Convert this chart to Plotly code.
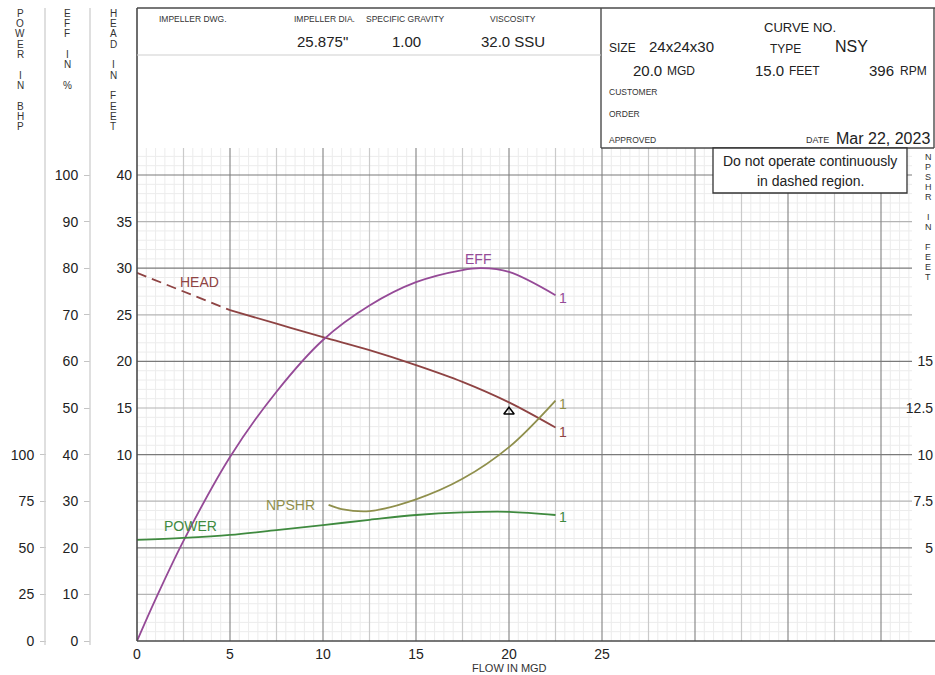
import plotly.graph_objects as go

# ---------------- data ----------------
head_flow = [0, 2.5, 5, 7.5, 10, 12.5, 15, 17.5, 20, 22.5]
head_ft = [29.5, 27.5, 25.5, 24.05, 22.6, 21.2, 19.6, 17.8, 15.6, 12.9]
eff_flow = [0, 1, 2.5, 5, 7.5, 10, 12.5, 15, 17.5, 18.5, 20, 22.5]
eff_pct = [0, 9, 21.5, 39.5, 53.5, 64.6, 72, 77, 79.6, 80, 79.2, 74.2]
power_flow = [0, 2.5, 5, 7.5, 10, 12.5, 15, 17.5, 20, 22.5]
power_bhp = [54.2, 55.3, 56.9, 59.5, 62.2, 65.0, 67.6, 69.0, 69.3, 67.6]
npshr_flow = [10.3, 11, 12.5, 15, 17.5, 20, 22.5]
npshr_ft = [7.3, 7.08, 6.97, 7.6, 8.7, 10.4, 12.9]
duty_flow = [20]
duty_head = [14.6]
dashed_until = 5  # head curve dashed below this flow

flow_ticks = [0, 5, 10, 15, 20, 25]
head_ticks = [10, 15, 20, 25, 30, 35, 40]
eff_ticks = [0, 10, 20, 30, 40, 50, 60, 70, 80, 90, 100]
power_ticks = [0, 25, 50, 75, 100]
npshr_ticks = [5, 7.5, 10, 12.5, 15]

# ---------------- geometry ----------------
W, H = 935, 675
X0, X1, Y0, Y1 = 137, 912, 641, 148
PX_MGD, PX_EFF = 18.6, 4.66
XMAX = (X1 - X0) / PX_MGD
EMAX = (Y0 - Y1) / PX_EFF


def px(x):
    return x / W


def py(y):
    return 1 - y / H


FONT = "Liberation Sans, Arial, sans-serif"
C_EFF, C_HEAD, C_NPSH, C_POW = "#954a97", "#8e4343", "#8f8f4c", "#3f8a3f"

fig = go.Figure()

h_dash = [i for i, f in enumerate(head_flow) if f <= dashed_until]
h_sol = [i for i, f in enumerate(head_flow) if f >= dashed_until]
fig.add_trace(go.Scatter(x=[head_flow[i] for i in h_dash], y=[head_ft[i] for i in h_dash],
                         mode="lines", line=dict(color=C_HEAD, width=1.8, dash="10px,6px"), yaxis="y"))
fig.add_trace(go.Scatter(x=[head_flow[i] for i in h_sol], y=[head_ft[i] for i in h_sol],
                         mode="lines", line=dict(color=C_HEAD, width=1.8, shape="spline"), yaxis="y"))
fig.add_trace(go.Scatter(x=eff_flow, y=eff_pct, mode="lines",
                         line=dict(color=C_EFF, width=1.8, shape="spline"), yaxis="y2"))
fig.add_trace(go.Scatter(x=power_flow, y=power_bhp, mode="lines",
                         line=dict(color=C_POW, width=1.8, shape="spline"), yaxis="y3"))
fig.add_trace(go.Scatter(x=npshr_flow, y=npshr_ft, mode="lines",
                         line=dict(color=C_NPSH, width=1.8, shape="spline"), yaxis="y4"))
fig.add_trace(go.Scatter(x=duty_flow, y=duty_head, mode="markers",
                         marker=dict(symbol="triangle-up-open", size=9, color="black",
                                     line=dict(width=1.5, color="black")), yaxis="y"))

levels = {0: [], 1: [], 2: []}
# vertical grid
n = 1
while n * 0.5 < XMAX:
    v = n * 0.5
    if n % 10 == 0:
        lv, col, w = 2, "#8c8c8c", 1.2
    elif n % 5 == 0:
        lv, col, w = 1, "#cacaca", 1.2
    else:
        lv, col, w = 0, "#ececec", 1
    levels[lv].append(dict(type="line", xref="x", yref="paper", x0=v, x1=v, y0=py(Y0), y1=py(Y1),
                           line=dict(color=col, width=w), layer="below"))
    n += 1
# horizontal grid
n = 1
while n * 2 < EMAX:
    v = n * 2
    if n % 10 == 0:
        lv, col, w = 2, "#7a7a7a", 1.2
    elif n % 5 == 0:
        lv, col, w = 1, "#b4b4b4", 1.2
    else:
        lv, col, w = 0, "#ececec", 1
    levels[lv].append(dict(type="line", xref="paper", yref="y2", x0=px(X0), x1=px(X1), y0=v, y1=v,
                           line=dict(color=col, width=w), layer="below"))
    n += 1
shapes = levels[0] + levels[1] + levels[2]

frame = "#4a4a4a"
# frame lines
shapes += [
    dict(type="line", xref="paper", yref="paper", x0=px(X0), x1=px(X0), y0=py(Y0), y1=py(8),
         line=dict(color=frame, width=1.6)),
    dict(type="line", xref="paper", yref="paper", x0=px(X0), x1=1, y0=py(Y0), y1=py(Y0),
         line=dict(color=frame, width=1.6)),
    dict(type="line", xref="paper", yref="paper", x0=px(X0), x1=1, y0=py(8), y1=py(8),
         line=dict(color=frame, width=1.6)),
    dict(type="line", xref="paper", yref="paper", x0=px(601), x1=px(601), y0=py(8), y1=py(148),
         line=dict(color=frame, width=1.4)),
    dict(type="line", xref="paper", yref="paper", x0=px(601), x1=px(934), y0=py(148), y1=py(148),
         line=dict(color=frame, width=1.4)),
    dict(type="line", xref="paper", yref="paper", x0=px(934), x1=px(934), y0=py(8), y1=py(148),
         line=dict(color=frame, width=1.4)),
    dict(type="line", xref="paper", yref="paper", x0=px(X0), x1=px(601), y0=py(55), y1=py(55),
         line=dict(color="#cfcfcf", width=1.2)),
    dict(type="line", xref="paper", yref="paper", x0=px(45), x1=px(45), y0=py(645), y1=py(8),
         line=dict(color="#d2d2d2", width=1.4)),
    dict(type="line", xref="paper", yref="paper", x0=px(90), x1=px(90), y0=py(645), y1=py(8),
         line=dict(color="#d2d2d2", width=1.4)),
    dict(type="rect", xref="paper", yref="paper", x0=px(713), x1=px(907), y0=py(148), y1=py(193),
         line=dict(color="#333", width=1.3), fillcolor="white"),
]

ann = []


def text(x, y, s, size, color="#222", xanchor="left"):
    ann.append(dict(x=px(x), y=py(y), xref="paper", yref="paper", text=s, showarrow=False,
                    xanchor=xanchor, yanchor="middle", font=dict(family=FONT, size=size, color=color)))


def vertical(x, y0, word, step, size):
    for i, ch in enumerate(word):
        if ch != " ":
            text(x, y0 + i * step, ch, size, "#333", "center")


vertical(20, 13, "POWER IN BHP", 10.36, 10)
vertical(67, 13, "EFF IN %", 10.36, 10)
vertical(113, 13, "HEAD IN FEET", 10.36, 10)
vertical(928, 157, "NPSHR IN FEET", 10, 9)

# header
text(157, 19, "IMPELLER DWG.", 8.5, "#333")
text(292, 19, "IMPELLER DIA.", 8.5, "#333")
text(364, 19, "SPECIFIC GRAVITY", 8.5, "#333")
text(513, 19, "VISCOSITY", 8.5, "#333", "center")
text(322, 41, "25.875\"", 15, "#222", "center")
text(406, 41, "1.00", 15, "#222", "center")
text(513, 41, "32.0 SSU", 15, "#222", "center")
text(800, 27, "CURVE NO.", 13, "#222", "center")
text(607, 48, "SIZE", 12)
text(647, 47, "24x24x30", 15)
text(768, 49, "TYPE", 12)
text(833, 47, "NSY", 16)
text(631, 70, "20.0", 15)
text(665, 71, "MGD", 12)
text(753, 70, "15.0", 15)
text(787, 71, "FEET", 12)
text(867, 70, "396", 15)
text(898, 71, "RPM", 12)
text(607, 92, "CUSTOMER", 8.5, "#333")
text(607, 114, "ORDER", 8.5, "#333")
text(607, 140, "APPROVED", 8.5, "#333")
text(804, 140, "DATE", 9, "#333")
text(834, 138, "Mar 22, 2023", 16)
text(810, 161, "Do not operate continuously", 14, "#222", "center")
text(810, 181, "in dashed region.", 14, "#222", "center")
text(509, 668, "FLOW IN MGD", 11, "#333", "center")

# curve labels
text(478, 259, "EFF", 14, C_EFF, "center")
text(199, 282, "HEAD", 14, C_HEAD, "center")
text(290, 505, "NPSHR", 14, C_NPSH, "center")
text(190, 526, "POWER", 14, C_POW, "center")
text(563, 298, "1", 14, C_EFF, "center")
text(563, 404, "1", 14, C_NPSH, "center")
text(563, 432, "1", 14, C_HEAD, "center")
text(563, 517, "1", 14, C_POW, "center")

tickfont = dict(family=FONT, size=14, color="#222")
fig.update_layout(
    width=W, height=H, margin=dict(l=0, r=0, t=0, b=0, autoexpand=False),
    paper_bgcolor="white", plot_bgcolor="white", showlegend=False,
    shapes=shapes, annotations=ann,
    xaxis=dict(domain=[px(X0), px(X1)], range=[0, XMAX], tickvals=flow_ticks,
               ticktext=[str(t) for t in flow_ticks], showgrid=False, zeroline=False,
               showline=False, ticks="", tickfont=tickfont, ticklabelstandoff=3),
    yaxis=dict(domain=[py(Y0), py(Y1)], range=[-10, EMAX / 2 - 10], tickvals=head_ticks,
               ticktext=[str(t) for t in head_ticks], showgrid=False, zeroline=False,
               showline=False, ticks="", tickfont=tickfont, ticklabelstandoff=4),
    yaxis2=dict(overlaying="y", anchor="free", position=px(90), side="left", range=[0, EMAX],
                tickvals=eff_ticks, ticktext=[str(t) for t in eff_ticks], showgrid=False,
                zeroline=False, showline=False, ticks="outside", ticklen=6, tickcolor="#c4c4c4",
                tickwidth=1.2, tickfont=tickfont, ticklabelstandoff=3),
    yaxis3=dict(overlaying="y", anchor="free", position=px(46), side="left",
                range=[0, EMAX * 2.5], tickvals=power_ticks, ticktext=[str(t) for t in power_ticks],
                showgrid=False, zeroline=False, showline=False, ticks="outside", ticklen=6,
                tickcolor="#c4c4c4", tickwidth=1.2, tickfont=tickfont, ticklabelstandoff=3),
    yaxis4=dict(overlaying="y", anchor="free", position=0.999, side="left",
                range=[0, EMAX / 4], tickvals=npshr_ticks, ticktext=[str(t) for t in npshr_ticks],
                showgrid=False, zeroline=False, showline=False, ticks="", tickfont=tickfont,
                ticklabelstandoff=1),
)

fig.write_html("out.html", config={"displayModeBar": False},
               post_script="document.body.style.margin='0';document.body.style.overflow='hidden';")
